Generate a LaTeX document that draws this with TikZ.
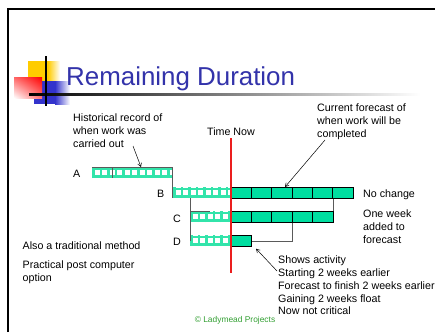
\documentclass[tikz,border=0pt]{standalone}
\usepackage{fontspec}
\setmainfont{Liberation Sans}
\usetikzlibrary{arrows.meta,calc,shadings}
\definecolor{hatchc}{RGB}{50,228,170}
\definecolor{barfill}{RGB}{0,222,160}
\definecolor{titleblue}{RGB}{51,51,170}
\definecolor{logoblue}{RGB}{51,51,204}
\definecolor{logoyellow}{RGB}{255,204,0}
\definecolor{logored}{RGB}{255,0,0}
\definecolor{timered}{RGB}{235,30,30}
\definecolor{copygreen}{RGB}{51,160,51}
\definecolor{connc}{RGB}{90,90,90}
\begin{document}
\begin{tikzpicture}[x=1pt,y=-1pt,
  txt/.style={font=\fontsize{10.7}{13}\selectfont, inner sep=0pt, anchor=north west, align=left},
  hbar/.style={rectangle, inner sep=0pt, anchor=north west, minimum height=11pt,
    path picture={
      \foreach \i in {0,...,11}{\draw[hatchc,line width=2.2pt] ([xshift=\i*7.5pt+1.2pt]path picture bounding box.south west) -- ([xshift=\i*7.5pt+1.2pt]path picture bounding box.north west);}
      \draw[hatchc,line width=2.2pt] ([yshift=-1.7pt]path picture bounding box.north west) -- ([yshift=-1.7pt]path picture bounding box.north east);
      \draw[hatchc,line width=2.2pt] ([yshift=1.7pt]path picture bounding box.south west) -- ([yshift=1.7pt]path picture bounding box.south east);
    }},
  sbar/.style={rectangle, draw=black, line width=0.7pt, fill=barfill, inner sep=0pt, anchor=north west, minimum height=11pt},
  cell/.style={draw=black, line width=0.7pt},
  conn/.style={draw=connc, line width=0.6pt},
  arr/.style={draw=black, line width=0.5pt, -{Straight Barb[length=3.5pt,width=4pt]}}
]
\useasboundingbox (0,0) rectangle (435,332);
\fill[white] (0,0) rectangle (435,332);
% frame
\draw[line width=2.2pt] (8,332) -- (8,9) -- (435,9);
% logo
\fill[logoyellow] (28,61) rectangle (48,82);
\shade[left color=logoyellow, right color=white] (48,61) rectangle (60,82);
\fill[logoblue] (34,81) rectangle (55,104);
\shade[left color=logoblue, right color=white] (55,81) rectangle (70,104);
\shade[upper right=logored, upper left=logored!60, lower right=logored!55, lower left=white] (14,77) rectangle (42,98);
\shade[left color=black, right color=white] (29,93) rectangle (420,95.5);
\draw[line width=2pt] (46,56) -- (46,106);
% title
\node[font=\fontsize{25.9}{30}\selectfont, text=titleblue, inner sep=0pt, anchor=base west] (title) at (66,85) {Remaining Duration};

% time now
\node[txt, anchor=north] (tn) at (231,128) {Time Now};
\coordinate (rtop) at (230.4,138);
\coordinate (rbot) at (231.6,273);

% bars
\node[hbar, minimum width=80pt] (Ah) at (92,167) {};
\node[hbar, minimum width=58pt] (Bh) at (173,187) {};
\node[hbar, minimum width=41pt] (Ch) at (190,211) {};
\node[hbar, minimum width=41pt] (Dh) at (190,235) {};
\node[sbar, minimum width=122pt] (Bs) at (231,187) {};
\node[sbar, minimum width=101.67pt] (Cs) at (231,211) {};
\node[sbar, minimum width=20.33pt] (Ds) at (231,235) {};
\foreach \i in {1,...,5}{\draw[cell] ([xshift=\i*20.33pt]Bs.north west) -- ([xshift=\i*20.33pt]Bs.south west);}
\foreach \i in {1,...,4}{\draw[cell] ([xshift=\i*20.33pt]Cs.north west) -- ([xshift=\i*20.33pt]Cs.south west);}

% thin outlines on hatched bars
\draw[conn] (Ah.north west) -- (Ah.north east);
\draw[conn] ([xshift=20pt]Ah.north west) -- ([xshift=20pt]Ah.south west);
\draw[conn] (Ch.north west) -- ([xshift=20pt]Ch.north west);

% red time-now line
\fill[timered] (rtop) rectangle (rbot);

% connectors
\draw[conn] (Ah.north east) -- (Ah.north east |- Bh.south);
\draw[conn] (Dh.west |- Bh.south) -- (Dh.west);
\draw[conn] (Cs.north east) -- (Cs.east |- Bs.south);
\draw[conn] ([xshift=61pt]Cs.south west) |- (Ds.east);

% labels
\node[txt] (la) at (73,170) {A};
\node[txt] (lb) at (157,190) {B};
\node[txt] (lc) at (173,215) {C};
\node[txt] (ld) at (173,238) {D};
\node[txt] (hist) at (73,113.3) {Historical record of\\when work was\\carried out};
\node[txt] (curr) at (317,103.3) {Current forecast of\\when work will be\\completed};
\node[txt] (nochg) at (363,190) {No change};
\node[txt] (onewk) at (363,210) {One week\\added to\\forecast};
\node[txt, font=\fontsize{10.7}{12.7}\selectfont] (shows) at (278,256) {Shows activity\\Starting 2 weeks earlier\\Forecast to finish 2 weeks earlier\\Gaining 2 weeks float\\Now not critical};
\node[txt] (also) at (22.5,241.5) {Also a traditional method};
\node[txt, font=\fontsize{10.7}{12.5}\selectfont] (prac) at (22.5,261) {Practical post computer\\option};
\node[font=\fontsize{8.4}{10}\selectfont, text=copygreen, inner sep=0pt, anchor=base] (copy) at (235,322) {© Ladymead Projects};

% arrows
\coordinate (h1) at (133,146);
\draw[arr] (h1) -- ([xshift=49pt]Ah.north west);
\coordinate (c1) at (325,140);
\draw[arr] (c1) -- ([xshift=54pt]Bs.north west);
\coordinate (s1) at (277,271);
\draw[arr] (s1) -- ([xshift=4pt,yshift=-2pt]Ds.south east);
\end{tikzpicture}
\end{document}
